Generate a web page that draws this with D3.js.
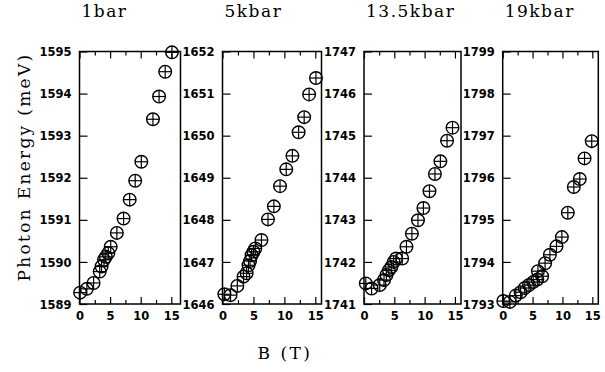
<!DOCTYPE html>
<html>
<head>
<meta charset="utf-8">
<script src="https://cdn.jsdelivr.net/npm/d3@7"></script>
<style>
  html, body { margin: 0; padding: 0; background: #fff; }
  svg { display: block; }
  .tick-label { font-family: "DejaVu Sans", sans-serif; font-weight: bold; font-size: 11.5px; fill: #000; }
  .title, .axis-title { font-family: "DejaVu Serif", serif; font-size: 17px; fill: #000; }
</style>
</head>
<body>
<svg id="chart" width="605" height="372"></svg>
<script>
// Pressure label for each panel
const pressures = ["1bar", "5kbar", "13.5kbar", "19kbar"];

// Photon-energy range (meV) shown on each panel's vertical axis
const energyMin = [1589, 1646, 1741, 1793];
const energyMax = [1595, 1652, 1747, 1799];

// Upper end of the field axis (T) for each panel
const fieldMax = [16.5, 16, 16, 16];

// Field-axis tick values
const fieldTicks = [0, 5, 10, 15];
const fieldMinorTicks = [2.5, 7.5, 12.5];

// Magnetic field B (T) and photon energy (meV), one pair of arrays per pressure
const field1bar = [0.1, 1.2, 2.3, 3.3, 3.6, 4.0, 4.3, 4.7, 5.1, 6.1, 7.2, 8.2, 9.1, 10.1, 12.0, 13.0, 14.0, 15.1];
const energy1bar = [1589.27, 1589.36, 1589.50, 1589.77, 1589.89, 1590.05, 1590.12, 1590.21, 1590.36, 1590.69, 1591.03, 1591.48, 1591.93, 1592.38, 1593.39, 1593.93, 1594.52, 1594.98];

const field5kbar = [0.3, 1.3, 2.4, 3.4, 3.9, 4.2, 4.45, 4.7, 5.0, 5.3, 6.3, 7.35, 8.3, 9.3, 10.3, 11.3, 12.3, 13.2, 14.0, 15.1];
const energy5kbar = [1646.23, 1646.21, 1646.43, 1646.65, 1646.73, 1646.92, 1647.02, 1647.16, 1647.24, 1647.32, 1647.52, 1648.01, 1648.32, 1648.80, 1649.20, 1649.52, 1650.08, 1650.44, 1650.98, 1651.37];

const field13kbar = [0.3, 1.25, 2.6, 3.3, 3.7, 4.1, 4.5, 4.9, 5.3, 6.3, 7.0, 7.9, 8.9, 9.8, 10.8, 11.7, 12.6, 13.7, 14.6];
const energy13kbar = [1741.49, 1741.37, 1741.45, 1741.57, 1741.69, 1741.80, 1741.88, 1742.00, 1742.08, 1742.08, 1742.36, 1742.67, 1742.99, 1743.28, 1743.68, 1744.09, 1744.39, 1744.88, 1745.19];

const field19kbar = [0.1, 1.2, 2.2, 3.0, 3.7, 4.4, 5.1, 5.8, 5.9, 6.6, 7.1, 7.9, 9.0, 9.9, 10.9, 11.9, 12.9, 13.7, 14.9];
const energy19kbar = [1793.07, 1793.05, 1793.20, 1793.28, 1793.38, 1793.45, 1793.52, 1793.58, 1793.78, 1793.66, 1793.97, 1794.17, 1794.37, 1794.59, 1795.17, 1795.78, 1795.97, 1796.46, 1796.87];

const fields = [field1bar, field5kbar, field13kbar, field19kbar];
const energies = [energy1bar, energy5kbar, energy13kbar, energy19kbar];

// Layout of the four frames
const panelLeft = [79.5, 222.5, 364, 502.7];
const panelRight = [180.5, 321.5, 461, 598.3];
const plotTop = 51.5, plotBottom = 304;
const markerR = 6.3;

const svg = d3.select("#chart");

pressures.forEach((label, i) => {
  const x = d3.scaleLinear().domain([0, fieldMax[i]]).range([panelLeft[i], panelRight[i]]);
  const y = d3.scaleLinear().domain([energyMin[i], energyMax[i]]).range([plotBottom, plotTop]);
  const g = svg.append("g");

  // Bottom axis: inward ticks and labels
  const bottom = d3.axisBottom(x).tickValues(fieldTicks).tickSize(-7).tickPadding(12).tickFormat(d3.format("d"));
  const gb = g.append("g").attr("transform", `translate(0,${plotBottom})`).call(bottom);
  gb.select(".domain").remove();
  gb.selectAll(".tick line").attr("stroke", "#000").attr("stroke-width", 1.2);
  gb.selectAll(".tick text").attr("class", "tick-label").attr("dy", "0.71em").attr("y", 8);

  const bottomMinor = d3.axisBottom(x).tickValues(fieldMinorTicks).tickSize(-4).tickFormat("");
  const gbm = g.append("g").attr("transform", `translate(0,${plotBottom})`).call(bottomMinor);
  gbm.select(".domain").remove();
  gbm.selectAll(".tick line").attr("stroke", "#000").attr("stroke-width", 1.2);

  // Top axis: ticks only
  const top = d3.axisTop(x).tickValues(fieldTicks).tickSize(-7).tickFormat("");
  const gt = g.append("g").attr("transform", `translate(0,${plotTop})`).call(top);
  gt.select(".domain").remove();
  gt.selectAll(".tick line").attr("stroke", "#000").attr("stroke-width", 1.2);

  const topMinor = d3.axisTop(x).tickValues(fieldMinorTicks).tickSize(-4).tickFormat("");
  const gtm = g.append("g").attr("transform", `translate(0,${plotTop})`).call(topMinor);
  gtm.select(".domain").remove();
  gtm.selectAll(".tick line").attr("stroke", "#000").attr("stroke-width", 1.2);

  // Left axis: one tick per meV
  const left = d3.axisLeft(y).tickValues(d3.range(energyMin[i], energyMax[i] + 1)).tickSize(-8).tickPadding(8).tickFormat(d3.format("d"));
  const gl = g.append("g").attr("transform", `translate(${panelLeft[i]},0)`).call(left);
  gl.select(".domain").remove();
  gl.selectAll(".tick line").attr("stroke", "#000").attr("stroke-width", 1.2);
  gl.selectAll(".tick text").attr("class", "tick-label").attr("dy", "0.36em");

  // Frame
  g.append("rect")
    .attr("x", panelLeft[i]).attr("y", plotTop)
    .attr("width", panelRight[i] - panelLeft[i]).attr("height", plotBottom - plotTop)
    .attr("fill", "none").attr("stroke", "#000").attr("stroke-width", 1.5);

  // Circle-plus markers
  const pts = fields[i].map((b, k) => ({ b: b, e: energies[i][k] }));
  const m = g.append("g").selectAll("g.pt").data(pts).join("g")
    .attr("class", "pt")
    .attr("transform", d => `translate(${x(d.b)},${y(d.e)})`);
  m.append("circle").attr("r", markerR).attr("fill", "none").attr("stroke", "#000").attr("stroke-width", 1.4);
  m.append("line").attr("x1", -markerR).attr("x2", markerR).attr("stroke", "#000").attr("stroke-width", 1.2);
  m.append("line").attr("y1", -markerR).attr("y2", markerR).attr("stroke", "#000").attr("stroke-width", 1.2);

  // Pressure title
  svg.append("text").attr("class", "title")
    .attr("x", panelLeft[i] + 2).attr("y", 17)
    .attr("letter-spacing", "1.5px")
    .text(label);
});

// Axis titles
svg.append("text").attr("class", "axis-title")
  .attr("transform", "translate(30,167) rotate(-90)")
  .attr("text-anchor", "middle")
  .attr("letter-spacing", "2.3px")
  .text("Photon Energy (meV)");

svg.append("text").attr("class", "axis-title")
  .attr("x", 285).attr("y", 359)
  .attr("text-anchor", "middle")
  .attr("letter-spacing", "2.5px")
  .text("B (T)");
</script>
</body>
</html>
